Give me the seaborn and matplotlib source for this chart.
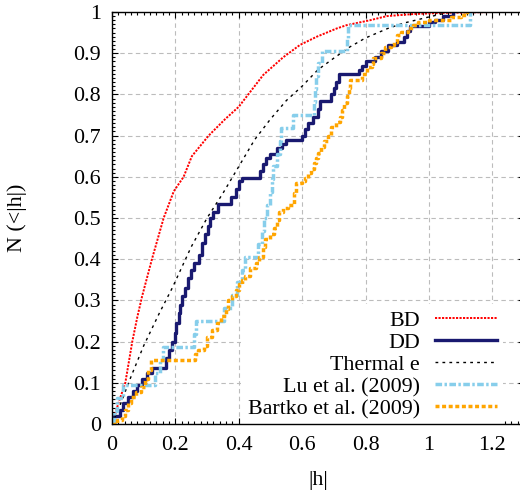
import matplotlib
matplotlib.use("Agg")
import matplotlib.pyplot as plt
from matplotlib.ticker import MultipleLocator, FixedLocator, FuncFormatter
import seaborn as sns

# Cumulative distributions of |h|
bd_h = [0.0, 0.005, 0.02, 0.042, 0.064, 0.08, 0.095, 0.126, 0.163, 0.195, 0.226, 0.252,
        0.305, 0.357, 0.40, 0.435, 0.477, 0.54, 0.593, 0.646, 0.709, 0.74, 0.814, 0.867,
        0.95, 1.05, 1.2]
bd_n = [0.0, 0.01, 0.05, 0.10, 0.20, 0.26, 0.31, 0.40, 0.50, 0.565, 0.60, 0.65,
        0.70, 0.74, 0.77, 0.805, 0.847, 0.89, 0.92, 0.94, 0.96, 0.968, 0.98, 0.99,
        0.995, 0.998, 1.0]

dd_h = [0.0, 0.005, 0.025, 0.035, 0.05, 0.065, 0.08, 0.095, 0.11, 0.125,
        0.17, 0.18, 0.19, 0.198, 0.203, 0.21, 0.215, 0.222, 0.23, 0.24,
        0.25, 0.26, 0.275, 0.285, 0.295, 0.303, 0.31, 0.32, 0.335, 0.375,
        0.39, 0.40, 0.41, 0.468, 0.475, 0.485, 0.50, 0.52, 0.535, 0.55,
        0.60, 0.61, 0.62, 0.635, 0.65, 0.655, 0.69, 0.70, 0.707, 0.715,
        0.78, 0.79, 0.80, 0.83, 0.85, 0.87, 0.90, 0.92, 0.93, 0.94,
        1.0, 1.02, 1.045, 1.075]
dd_n = [0.0, 0.02, 0.035, 0.05, 0.065, 0.08, 0.095, 0.11, 0.125, 0.135,
        0.16, 0.18, 0.20, 0.22, 0.245, 0.27, 0.29, 0.31, 0.33, 0.355,
        0.375, 0.39, 0.41, 0.44, 0.46, 0.48, 0.50, 0.515, 0.535, 0.55,
        0.57, 0.59, 0.597, 0.615, 0.63, 0.645, 0.655, 0.67, 0.68, 0.69,
        0.70, 0.715, 0.73, 0.745, 0.765, 0.783, 0.80, 0.815, 0.83, 0.85,
        0.86, 0.87, 0.88, 0.89, 0.905, 0.92, 0.928, 0.94, 0.955, 0.965,
        0.975, 0.98, 0.99, 1.0]

thermal_h = [0.0, 0.02, 0.06, 0.10, 0.15, 0.19, 0.25, 0.30, 0.35, 0.40, 0.45,
             0.50, 0.55, 0.60, 0.65, 0.70, 0.75, 0.80, 0.87, 0.92, 1.0, 1.05]
thermal_n = [0.0, 0.035, 0.115, 0.19, 0.27, 0.33, 0.43, 0.50, 0.56, 0.625, 0.69,
             0.74, 0.785, 0.82, 0.86, 0.888, 0.915, 0.937, 0.96, 0.973, 0.988, 0.997]

# Lu et al. (2009): individual |h| values of the sample
lu_h = [0.005, 0.015, 0.035, 0.137, 0.15, 0.16, 0.258, 0.265, 0.352, 0.38, 0.393,
        0.41, 0.42, 0.46, 0.472, 0.48, 0.49, 0.50, 0.505, 0.508, 0.52, 0.53, 0.532,
        0.572, 0.636, 0.64, 0.645, 0.65, 0.662, 0.742, 0.746, 1.13]

bartko_h = [0.0, 0.015, 0.03, 0.04, 0.05, 0.06, 0.075, 0.09, 0.105, 0.115,
            0.124, 0.262, 0.27, 0.29, 0.30, 0.315, 0.33, 0.345, 0.36, 0.367,
            0.38, 0.39, 0.40, 0.41, 0.42, 0.435, 0.455, 0.465, 0.475, 0.482,
            0.50, 0.512, 0.52, 0.528, 0.54, 0.555, 0.575, 0.582, 0.598, 0.608,
            0.618, 0.628, 0.638, 0.645, 0.65, 0.66, 0.67, 0.682, 0.692, 0.707,
            0.718, 0.725, 0.733, 0.74, 0.748, 0.752, 0.79, 0.805, 0.82, 0.825,
            0.85, 0.86, 0.88, 0.89, 0.90, 0.913, 0.933, 0.95, 0.965, 1.0,
            1.07, 1.10, 1.12]
bartko_n = [0.0, 0.01, 0.02, 0.035, 0.05, 0.065, 0.078, 0.09, 0.11, 0.13,
            0.156, 0.17, 0.18, 0.19, 0.21, 0.228, 0.245, 0.262, 0.28, 0.30,
            0.31, 0.325, 0.34, 0.35, 0.36, 0.378, 0.39, 0.406, 0.43, 0.45,
            0.46, 0.475, 0.495, 0.515, 0.524, 0.532, 0.56, 0.584, 0.59, 0.598,
            0.61, 0.62, 0.633, 0.645, 0.657, 0.672, 0.688, 0.70, 0.72, 0.733,
            0.746, 0.762, 0.778, 0.795, 0.815, 0.835, 0.85, 0.867, 0.873, 0.888,
            0.90, 0.915, 0.92, 0.928, 0.944, 0.952, 0.96, 0.968, 0.975, 0.98,
            0.988, 0.993, 1.0]

x_ticks = [0, 0.2, 0.4, 0.6, 0.8, 1, 1.2]
y_ticks = [0, 0.1, 0.2, 0.3, 0.4, 0.5, 0.6, 0.7, 0.8, 0.9, 1]

plt.rcParams["font.family"] = ["Liberation Serif", "DejaVu Serif"]
FS = 15.8

fig = plt.figure(figsize=(5.2, 4.95), dpi=100)
ax = fig.add_axes([112 / 520, 71 / 495, 412 / 520, 412 / 495])

sns.lineplot(x=bd_h, y=bd_n, ax=ax, color="red", linewidth=1.4,
             linestyle=(0, (1.1, 0.7)), estimator=None, sort=False, label="BD")
sns.lineplot(x=dd_h, y=dd_n, ax=ax, color="#191970", linewidth=2.4,
             drawstyle="steps-post", estimator=None, sort=False, label="DD")
sns.lineplot(x=thermal_h, y=thermal_n, ax=ax, color="black", linewidth=1.0,
             linestyle=(0, (2.0, 3.0)), estimator=None, sort=False, label="Thermal e")
sns.ecdfplot(x=lu_h, ax=ax, color="#87CEEB", linewidth=2.5,
             linestyle=(0, (1.9, 0.7, 0.7, 0.7)), label="Lu et al. (2009)")
sns.lineplot(x=bartko_h, y=bartko_n, ax=ax, color="#FFA500", linewidth=2.5,
             linestyle=(0, (1.15, 0.75)), drawstyle="steps-post",
             estimator=None, sort=False, label="Bartko et al. (2009)")

ax.set_xlim(0, 1.3)
ax.set_ylim(0, 1)
ax.xaxis.set_major_locator(FixedLocator(x_ticks))
ax.yaxis.set_major_locator(FixedLocator(y_ticks))
ax.xaxis.set_minor_locator(MultipleLocator(0.02))
ax.yaxis.set_minor_locator(MultipleLocator(0.01))
fmt = FuncFormatter(lambda v, p: f"{v:g}")
ax.xaxis.set_major_formatter(fmt)
ax.yaxis.set_major_formatter(fmt)

ax.set_axisbelow(True)
ax.grid(True, which="major", color="#bcbcbc", linestyle=(0, (4, 3)), linewidth=0.8)
ax.tick_params(which="both", direction="in", top=True, right=True, width=0.8,
               labelsize=FS)
ax.tick_params(which="major", length=4.5)
ax.tick_params(which="minor", length=2.2)
ax.tick_params(axis="x", which="major", pad=9)
ax.tick_params(axis="y", which="major", pad=8)
for s in ax.spines.values():
    s.set_linewidth(1.0)

ax.set_xlabel("|h|", fontsize=FS, labelpad=11)
ax.set_ylabel("N (<|h|)", fontsize=FS, labelpad=33)

leg = ax.legend(loc="upper right", bbox_to_anchor=(0.95, 0.292), borderaxespad=0,
                frameon=True, fancybox=False, edgecolor="none", facecolor="white",
                framealpha=1, markerfirst=False, handlelength=2.8,
                handletextpad=0.7, labelspacing=0.08, borderpad=0.3, fontsize=FS)
leg.set_zorder(2.4)

fig.savefig("out.png", dpi=100)
